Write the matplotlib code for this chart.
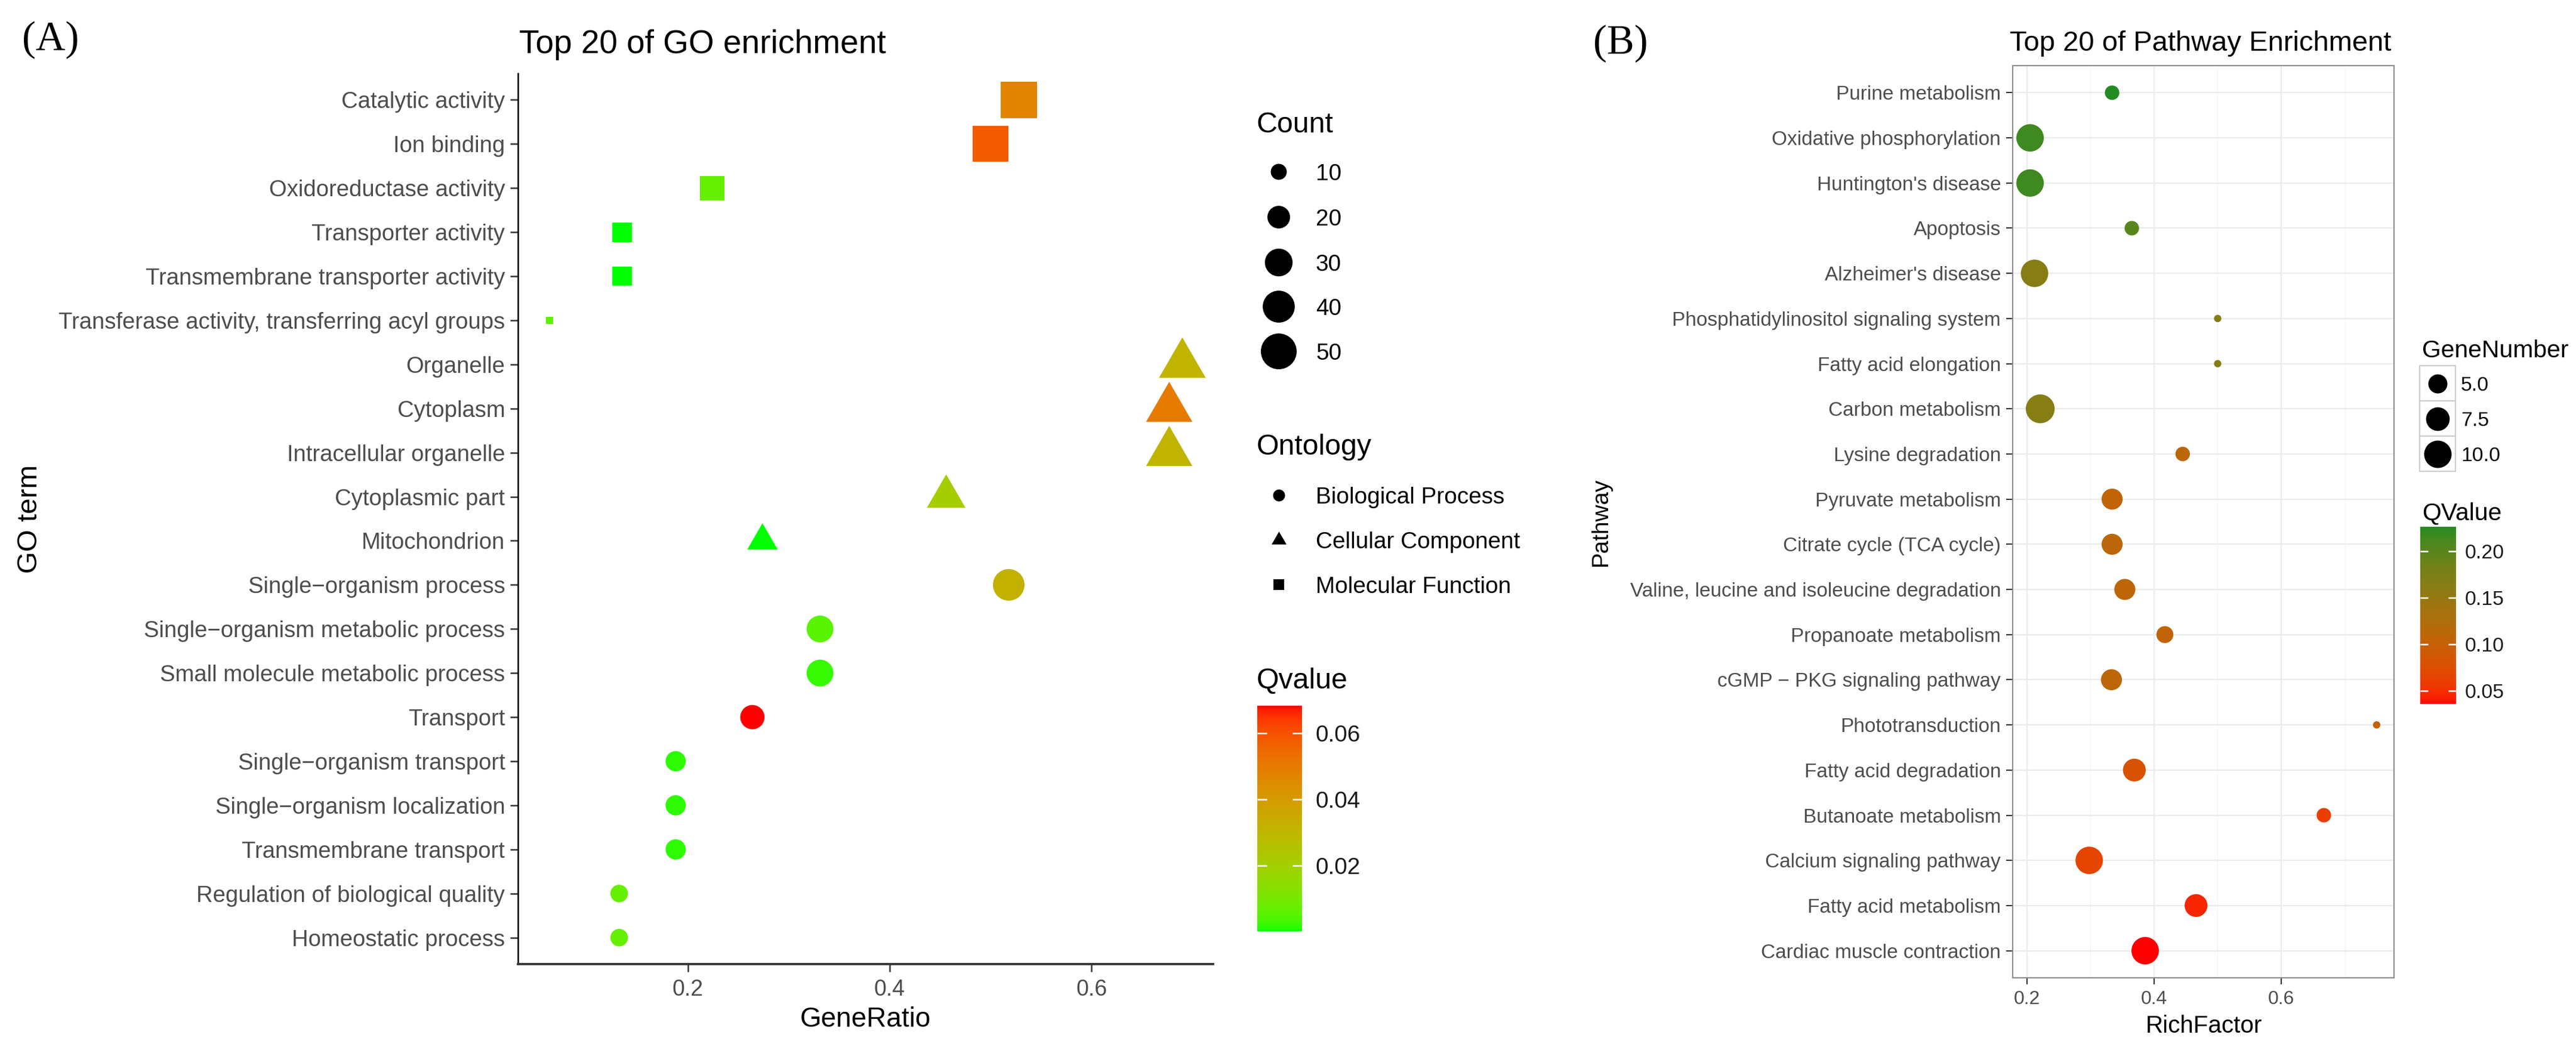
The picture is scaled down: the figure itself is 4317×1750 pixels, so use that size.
import numpy as np
import matplotlib
matplotlib.use("Agg")
import matplotlib.pyplot as plt
from matplotlib.colors import ListedColormap, Normalize, to_rgb
from matplotlib.cm import ScalarMappable
from matplotlib.path import Path
from matplotlib.patches import Rectangle

plt.rcParams['font.family'] = ['Liberation Sans', 'DejaVu Sans']

W, H, DPI = 4317, 1750, 300

# ---------------- panel A : GO enrichment (listed top to bottom) ----------------
go_terms = ['Catalytic activity', 'Ion binding', 'Oxidoreductase activity',
            'Transporter activity', 'Transmembrane transporter activity',
            'Transferase activity, transferring acyl groups',
            'Organelle', 'Cytoplasm', 'Intracellular organelle', 'Cytoplasmic part',
            'Mitochondrion', 'Single\u2212organism process',
            'Single\u2212organism metabolic process', 'Small molecule metabolic process',
            'Transport', 'Single\u2212organism transport', 'Single\u2212organism localization',
            'Transmembrane transport', 'Regulation of biological quality',
            'Homeostatic process']
go_ontology = ['MF', 'MF', 'MF', 'MF', 'MF', 'MF',
               'CC', 'CC', 'CC', 'CC', 'CC',
               'BP', 'BP', 'BP', 'BP', 'BP', 'BP', 'BP', 'BP', 'BP']
go_ratio = [0.528, 0.500, 0.224, 0.135, 0.135, 0.063,
            0.690, 0.677, 0.677, 0.456, 0.274,
            0.518, 0.331, 0.331, 0.264, 0.188, 0.188, 0.188, 0.132, 0.132]
go_count = [52, 50, 23, 15, 15, 2,
            47, 46, 46, 32, 20,
            39, 28, 28, 23, 16, 16, 16, 12, 12]
go_qvalue = [0.047, 0.058, 0.007, 0.0003, 0.0003, 0.006,
             0.031, 0.050, 0.031, 0.021, 0.0001,
             0.032, 0.0055, 0.002, 0.0684, 0.0015, 0.0015, 0.0015, 0.007, 0.007]

ont_names = {'BP': 'Biological Process', 'CC': 'Cellular Component', 'MF': 'Molecular Function'}
count_breaks = [10, 20, 30, 40, 50]
qA_ticks = [0.02, 0.04, 0.06]

# ---------------- panel B : pathway enrichment (top to bottom) ----------------
path_terms = ['Purine metabolism', 'Oxidative phosphorylation', "Huntington's disease",
              'Apoptosis', "Alzheimer's disease", 'Phosphatidylinositol signaling system',
              'Fatty acid elongation', 'Carbon metabolism', 'Lysine degradation',
              'Pyruvate metabolism', 'Citrate cycle (TCA cycle)',
              'Valine, leucine and isoleucine degradation', 'Propanoate metabolism',
              'cGMP \u2212 PKG signaling pathway', 'Phototransduction',
              'Fatty acid degradation', 'Butanoate metabolism', 'Calcium signaling pathway',
              'Fatty acid metabolism', 'Cardiac muscle contraction']
path_rich = [0.334, 0.205, 0.205, 0.365, 0.212, 0.500, 0.500, 0.221, 0.445, 0.334,
             0.334, 0.354, 0.417, 0.333, 0.750, 0.369, 0.667, 0.298, 0.466, 0.386]
path_genes = [3, 10, 10, 3, 10, 1, 1, 11, 3, 6,
              6, 6, 4, 6, 1, 7, 3, 10, 7, 10]
path_qvalue = [0.226, 0.215, 0.215, 0.200, 0.165, 0.165, 0.165, 0.165, 0.112, 0.105,
               0.112, 0.110, 0.105, 0.110, 0.100, 0.080, 0.060, 0.065, 0.045, 0.036]
gene_breaks = [5.0, 7.5, 10.0]
qB_ticks = [0.05, 0.10, 0.15, 0.20]


# colour ramps interpolated in CIELAB (like ggplot's scale_colour_gradient)
M = np.array([[0.4124, 0.3576, 0.1805], [0.2126, 0.7152, 0.0722], [0.0193, 0.1192, 0.9505]])
WP = np.array([0.95047, 1.0, 1.08883])


def to_lab(c):
    rgb = np.array(to_rgb(c))
    lin = np.where(rgb <= 0.04045, rgb / 12.92, ((rgb + 0.055) / 1.055) ** 2.4)
    xyz = (M @ lin) / WP
    f = np.where(xyz > (6 / 29) ** 3, np.cbrt(xyz), xyz / (3 * (6 / 29) ** 2) + 4 / 29)
    return np.array([116 * f[1] - 16, 500 * (f[0] - f[1]), 200 * (f[1] - f[2])])


def from_lab(lab):
    fy = (lab[0] + 16) / 116
    f = np.array([fy + lab[1] / 500, fy, fy - lab[2] / 200])
    xyz = np.where(f > 6 / 29, f ** 3, 3 * (6 / 29) ** 2 * (f - 4 / 29)) * WP
    lin = np.clip(np.linalg.solve(M, xyz), 0, 1)
    return np.clip(np.where(lin <= 0.0031308, 12.92 * lin, 1.055 * lin ** (1 / 2.4) - 0.055), 0, 1)


def lab_cmap(low, high, n=256):
    a, b = to_lab(low), to_lab(high)
    return ListedColormap([from_lab(a + (b - a) * t) for t in np.linspace(0, 1, n)])


cmapA = lab_cmap('#00FF00', '#FF0000')
cmapB = lab_cmap('#FF0000', '#228B22')
normA = Normalize(min(go_qvalue), max(go_qvalue))
normB = Normalize(min(path_qvalue), max(path_qvalue))

# custom triangle (same area as the circle, centred on centroid)
tri = Path([(0, 1.5551), (1.3468, -0.7776), (-1.3468, -0.7776), (0, 1.5551)],
           [Path.MOVETO, Path.LINETO, Path.LINETO, Path.CLOSEPOLY])
TRI_K = 1.5551 ** 2


def size_A(c):
    return 4.15 * np.asarray(c, float)


def size_B(g):
    return 12.56 * np.asarray(g, float) - 3.8


def px_box(l, t, r, b):
    return [l / W, 1 - b / H, (r - l) / W, (b - t) / H]


fig = plt.figure(figsize=(W / DPI, H / DPI), dpi=DPI)

# ---------------- panel A ----------------
axA = fig.add_axes(px_box(868, 123, 2033, 1616))
yA = np.arange(len(go_terms))[::-1]
ratio = np.array(go_ratio)
cnt = np.array(go_count)
qv = np.array(go_qvalue)
ont = np.array(go_ontology)
for key, mk, k in [('BP', 'o', 1.0), ('CC', tri, TRI_K), ('MF', 's', 1.0)]:
    m = ont == key
    axA.scatter(ratio[m], yA[m], s=size_A(cnt[m]) * k, c=qv[m], cmap=cmapA, norm=normA,
                marker=mk, linewidths=0, zorder=3, clip_on=False)
axA.set_xlim(0.0317, 0.7205)
axA.set_ylim(-0.6, len(go_terms) - 0.4)
axA.set_xticks([0.2, 0.4, 0.6], ['0.2', '0.4', '0.6'])
axA.set_yticks(yA, go_terms)
for s in ['top', 'right']:
    axA.spines[s].set_visible(False)
axA.spines['left'].set_linewidth(0.6)
axA.spines['left'].set_color('black')
axA.spines['bottom'].set_linewidth(0.9)
axA.spines['bottom'].set_color('#333333')
axA.tick_params(axis='y', length=3.2, width=0.6, color='#333333', pad=2,
                labelsize=9.2, labelcolor='#4D4D4D')
axA.tick_params(axis='x', length=3, width=0.6, color='#333333', pad=3,
                labelsize=9, labelcolor='#4D4D4D')

# ---------------- panel B ----------------
axB = fig.add_axes(px_box(3373, 110, 4012, 1639))
yB = np.arange(len(path_terms))[::-1]
axB.scatter(path_rich, yB, s=size_B(path_genes), c=path_qvalue, cmap=cmapB, norm=normB,
            marker='o', linewidths=0, zorder=3)
axB.set_xlim(0.1777, 0.7773)
axB.set_ylim(-0.6, len(path_terms) - 0.4)
axB.set_xticks([0.2, 0.4, 0.6], ['0.2', '0.4', '0.6'])
axB.set_xticks([0.3, 0.5, 0.7], minor=True)
axB.set_yticks(yB, path_terms)
axB.set_axisbelow(True)
axB.grid(which='major', color='#EBEBEB', linewidth=0.55)
axB.grid(which='minor', axis='x', color='#F4F4F4', linewidth=0.35)
for s in axB.spines.values():
    s.set_color('#8C8C8C')
    s.set_linewidth(0.5)
axB.tick_params(which='major', length=2.75, width=0.5, color='#333333', pad=2,
                labelsize=8, labelcolor='#4D4D4D')
axB.tick_params(axis='x', labelsize=7.7, pad=2.2)
axB.tick_params(which='minor', length=0)

# ---------------- overlay for titles, labels and legends (pixel coords) ----------------
lax = fig.add_axes([0, 0, 1, 1], zorder=10)
lax.set_xlim(0, W)
lax.set_ylim(H, 0)
lax.axis('off')
lax.patch.set_visible(False)


def txt(x, yc, s, size, **kw):
    # place text so that its cap-height centre sits at yc (pixels)
    lax.text(x, yc + 0.36 * size * DPI / 72, s, fontsize=size, va='baseline', **kw)


lax.text(37, 84, '(A)', fontsize=16.5, family='Liberation Serif', va='baseline')
lax.text(2670, 90, '(B)', fontsize=16.5, family='Liberation Serif', va='baseline')
lax.text(870, 89, 'Top 20 of GO enrichment', fontsize=13.2, va='baseline')
lax.text(3368, 85, 'Top 20 of Pathway Enrichment', fontsize=11.3, va='baseline')
lax.text(1450, 1721, 'GeneRatio', fontsize=11, va='baseline', ha='center')
lax.text(3693, 1731, 'RichFactor', fontsize=9.7, va='baseline', ha='center')
lax.text(50, 870, 'GO term', fontsize=11.4, rotation=90, va='center', ha='center')
lax.text(2683, 875, 'Pathway', fontsize=9.3, rotation=90, va='center', ha='center')

# legend A : Count
txt(2106, 205, 'Count', 11.6)
cy = [288, 364, 440, 514, 589]
lax.scatter([2143] * len(count_breaks), cy, s=size_A(count_breaks), color='black',
            linewidths=0)
for y, v in zip(cy, count_breaks):
    txt(2205, y, str(v), 9.3)

# legend A : Ontology
txt(2106, 745, 'Ontology', 11.6)
oy = [830, 905, 980]
for y, key, mk, k, d in [(oy[0], 'BP', 'o', 1.0, 20), (oy[1], 'CC', tri, TRI_K, 18.5),
                         (oy[2], 'MF', 's', 1.0, 19)]:
    lax.scatter([2143], [y], s=(0.24 * d) ** 2 * k, marker=mk, color='black', linewidths=0)
    txt(2205, y, ont_names[key], 9.3)

# legend A : Qvalue colourbar
txt(2106, 1137, 'Qvalue', 11.6)
caxA = fig.add_axes(px_box(2107, 1183, 2182, 1561))
cbA = fig.colorbar(ScalarMappable(norm=normA, cmap=cmapA), cax=caxA)
cbA.set_ticks(qA_ticks, labels=['%.2f' % t for t in qA_ticks])
cbA.outline.set_visible(False)
caxA.minorticks_off()
caxA.tick_params(axis='y', direction='in', length=3.8, width=0.6, color='white',
                 left=True, right=True, labelleft=False, labelright=True, pad=5.5,
                 labelsize=9.3, labelcolor='#1A1A1A')

# legend B : GeneNumber
txt(4059, 584, 'GeneNumber', 9.8)
ky = [613, 672, 731, 790]
for i, v in enumerate(gene_breaks):
    lax.add_patch(Rectangle((4055, ky[i]), 60, ky[i + 1] - ky[i], facecolor='white',
                            edgecolor='#CCCCCC', linewidth=0.5))
    yc = (ky[i] + ky[i + 1]) / 2
    lax.scatter([4085], [yc], s=size_B(v), color='black', linewidths=0, zorder=3)
    txt(4124, yc, '%.1f' % v, 8.1)

# legend B : QValue colourbar
txt(4059, 857, 'QValue', 9.8)
caxB = fig.add_axes(px_box(4056, 883, 4116, 1180))
cbB = fig.colorbar(ScalarMappable(norm=normB, cmap=cmapB), cax=caxB)
cbB.set_ticks(qB_ticks, labels=['%.2f' % t for t in qB_ticks])
cbB.outline.set_visible(False)
caxB.minorticks_off()
caxB.tick_params(axis='y', direction='in', length=3.2, width=0.6, color='white',
                 left=True, right=True, labelleft=False, labelright=True, pad=3.4,
                 labelsize=8.1, labelcolor='#1A1A1A')

fig.savefig('out.png', dpi=DPI, facecolor='white')
